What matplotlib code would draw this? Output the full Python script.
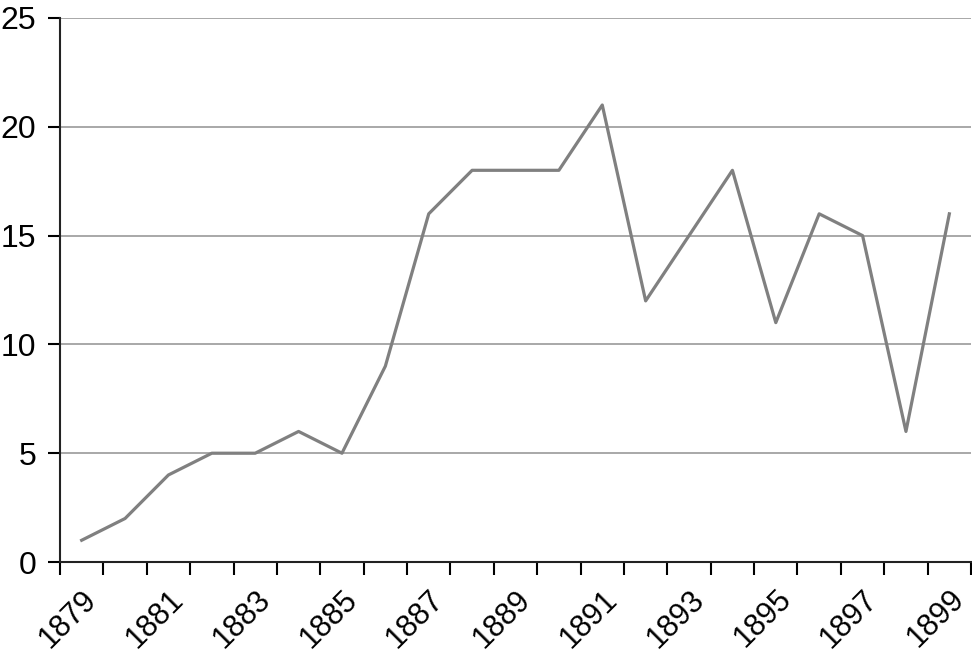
import numpy as np
import matplotlib.pyplot as plt

years = list(range(1879, 1900))
values = [1, 2, 4, 5, 5, 6, 5, 9, 16, 18, 18, 18, 21, 12, 15, 18, 11, 16, 15, 6, 16]
label_years = years[::2]

plt.rcParams['font.family'] = ['Liberation Sans', 'DejaVu Sans']

fig = plt.figure(figsize=(9.72, 6.63), dpi=100)
ax = fig.add_axes([0.0617, 0.1523, 0.9373, 0.8206])

x = np.arange(len(years))
ax.plot(x, values, color='#808080', linewidth=2.3, zorder=3)

ax.set_xlim(-0.5, len(years) - 0.5)
ax.set_ylim(0, 25)
ax.set_yticks([0, 5, 10, 15, 20, 25])
ax.yaxis.grid(True, color='#999999', linewidth=1.2)
ax.set_axisbelow(True)

# ticks sit between categories, labels at every other year
ax.set_xticks(np.arange(len(years) + 1) - 0.5)
ax.set_xticklabels([])
ax.set_xticks([years.index(y) for y in label_years], minor=True)
ax.set_xticklabels([str(y) for y in label_years], minor=True,
                   rotation=45, ha='right', rotation_mode='anchor')
ax.tick_params(axis='x', which='minor', length=0, pad=16, labelsize=22)
ax.tick_params(axis='x', which='major', length=9, width=1.5, direction='out')
ax.tick_params(axis='y', length=9, width=1.5, pad=8, labelsize=23)

for s in ['top', 'right']:
    ax.spines[s].set_visible(False)
for s in ['left', 'bottom']:
    ax.spines[s].set_linewidth(1.5)
    ax.spines[s].set_color('#222222')

fig.savefig('out.png', dpi=100)
